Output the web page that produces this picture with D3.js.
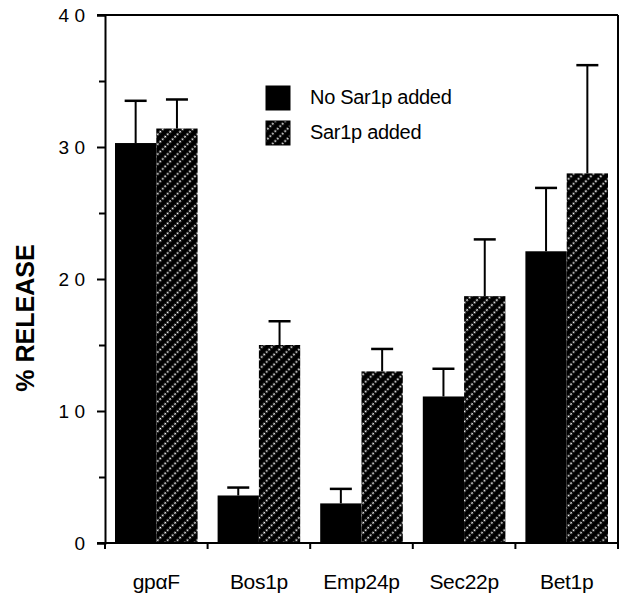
<!DOCTYPE html>
<html><head><meta charset="utf-8">
<script src="https://cdn.jsdelivr.net/npm/d3@7"></script>
<style>body{margin:0;background:#fff}svg{display:block}text{font-family:"Liberation Sans",Arial,sans-serif}</style>
</head><body>
<script>
const categories = ["gp\u03B1F", "Bos1p", "Emp24p", "Sec22p", "Bet1p"];
const seriesNames = ["No Sar1p added", "Sar1p added"];
const noSar1p = [30.3, 3.6, 3.0, 11.1, 22.1];
const noSar1pErr = [3.2, 0.6, 1.1, 2.1, 4.8];
const sar1p = [31.4, 15.0, 13.0, 18.7, 28.0];
const sar1pErr = [2.2, 1.8, 1.7, 4.3, 8.2];
const yTicks = [0, 10, 20, 30, 40];
const yTickLabels = ["0", "1 0", "2 0", "3 0", "4 0"];

const W = 621, H = 597;
const svg = d3.select("body").append("svg").attr("width", W).attr("height", H);
const defs = svg.append("defs");
const pat = defs.append("pattern").attr("id", "hatch").attr("patternUnits", "userSpaceOnUse")
  .attr("width", 7).attr("height", 7).attr("patternTransform", "rotate(45)");
pat.append("rect").attr("width", 7).attr("height", 7).attr("fill", "#000");
pat.append("line").attr("x1", 3.5).attr("x2", 3.5).attr("y1", 0).attr("y2", 7)
  .attr("stroke", "#fff").attr("stroke-width", 1.7).attr("stroke-dasharray", "1.8,1.7");

const mLeft = 105, mRight = 618, mTop = 15, mBottom = 543;
const y = d3.scaleLinear().domain([0, 40]).range([mBottom, mTop]);
const x0 = d3.scaleBand().domain(categories).range([mLeft, mRight]).padding(0);
const bw = x0.bandwidth();
const x1 = d3.scaleBand().domain(seriesNames).range([10, bw - 10]).padding(0);

const data = [];
categories.forEach((c, i) => {
  data.push({c, s: seriesNames[0], v: noSar1p[i], e: noSar1pErr[i]});
  data.push({c, s: seriesNames[1], v: sar1p[i], e: sar1pErr[i]});
});
const fillOf = s => s === seriesNames[0] ? "#000" : "url(#hatch)";

// error bars (upper only)
const eg = svg.append("g").attr("stroke", "#000").attr("stroke-width", 2);
data.forEach(d => {
  const cx = x0(d.c) + x1(d.s) + x1.bandwidth() / 2;
  eg.append("line").attr("x1", cx).attr("x2", cx).attr("y1", y(d.v)).attr("y2", y(d.v + d.e));
  eg.append("line").attr("x1", cx - 11).attr("x2", cx + 11).attr("y1", y(d.v + d.e)).attr("y2", y(d.v + d.e)).attr("stroke-width", 2.5);
});

// bars
svg.append("g").selectAll("rect").data(data).join("rect")
  .attr("x", d => x0(d.c) + x1(d.s))
  .attr("y", d => y(d.v))
  .attr("width", x1.bandwidth())
  .attr("height", d => mBottom - y(d.v))
  .attr("fill", d => fillOf(d.s));

// y axis
const yAxis = d3.axisLeft(y).tickValues(yTicks).tickFormat((d, i) => yTickLabels[i]).tickSize(8).tickPadding(12);
const ya = svg.append("g").attr("transform", `translate(${mLeft},0)`).call(yAxis);
ya.select(".domain").attr("stroke-width", 2);
ya.selectAll(".tick line").attr("stroke-width", 2);
ya.selectAll("text").attr("font-size", 19).attr("fill", "#000").attr("font-family", "'Liberation Sans', Arial, sans-serif");
// minor ticks
const yMinor = d3.axisLeft(y).tickValues([5, 15, 25, 35]).tickFormat("").tickSize(6);
const ym = svg.append("g").attr("transform", `translate(${mLeft},0)`).call(yMinor);
ym.select(".domain").remove();
ym.selectAll(".tick line").attr("stroke-width", 2);

// x axis
const xTickPos = d3.range(categories.length + 1).map(i => mLeft + i * bw);
const xa = svg.append("g").attr("stroke", "#000").attr("stroke-width", 2);
xa.append("line").attr("x1", mLeft - 8).attr("x2", mRight).attr("y1", mBottom).attr("y2", mBottom);
xTickPos.forEach(px => xa.append("line").attr("x1", px).attr("x2", px).attr("y1", mBottom).attr("y2", mBottom + 6));
svg.append("g").selectAll("text").data(categories).join("text")
  .attr("x", d => x0(d) + bw / 2).attr("y", 589).attr("text-anchor", "middle")
  .attr("font-size", 21).attr("letter-spacing", -0.3).text(d => d);

// frame top & right
svg.append("line").attr("x1", mLeft - 8).attr("x2", mRight).attr("y1", mTop).attr("y2", mTop).attr("stroke", "#000").attr("stroke-width", 2);
svg.append("line").attr("x1", mRight).attr("x2", mRight).attr("y1", mTop).attr("y2", mBottom).attr("stroke", "#000").attr("stroke-width", 2);

// y title
svg.append("text").attr("transform", `translate(34,318) rotate(-90)`)
  .attr("text-anchor", "middle").attr("font-size", 25).attr("font-weight", "bold").text("% RELEASE");

// legend
const lg = svg.append("g").attr("transform", "translate(266,86)");
seriesNames.forEach((s, i) => {
  lg.append("rect").attr("x", 0).attr("y", i * 35).attr("width", 24).attr("height", 24)
    .attr("fill", fillOf(s)).attr("stroke", "#000").attr("stroke-width", 1);
  lg.append("text").attr("x", 44).attr("y", i * 35 + 18).attr("font-size", 20).attr("letter-spacing", -0.3).text(s);
});
</script>
</body></html>
